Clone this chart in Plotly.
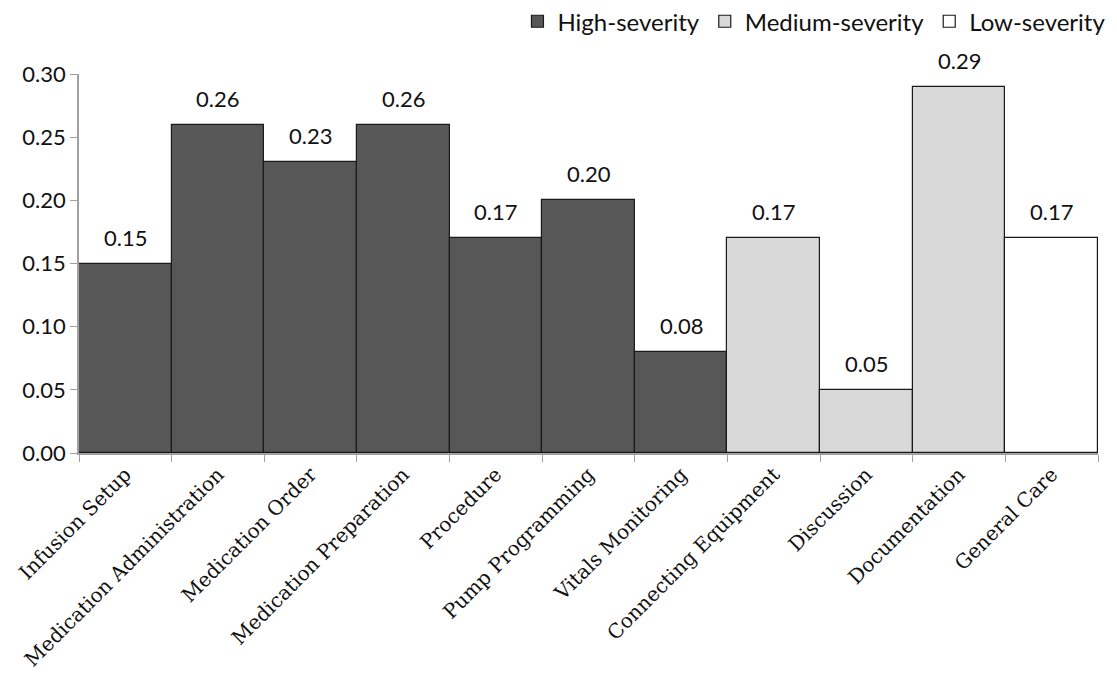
import plotly.graph_objects as go

categories = ["Infusion Setup", "Medication Administration", "Medication Order",
              "Medication Preparation", "Procedure", "Pump Programming",
              "Vitals Monitoring", "Connecting Equipment", "Discussion",
              "Documentation", "General Care"]
values = [0.15, 0.26, 0.23, 0.26, 0.17, 0.20, 0.08, 0.17, 0.05, 0.29, 0.17]
severity = ["High", "High", "High", "High", "High", "High", "High",
            "Medium", "Medium", "Medium", "Low"]
series_names = {"High": "High-severity", "Medium": "Medium-severity", "Low": "Low-severity"}
colors = {"High": "#575757", "Medium": "#d9d9d9", "Low": "#ffffff"}
y_ticks = [0.00, 0.05, 0.10, 0.15, 0.20, 0.25, 0.30]

fig = go.Figure()
for sev in ["High", "Medium", "Low"]:
    xs = [c for c, s in zip(categories, severity) if s == sev]
    ys = [v for v, s in zip(values, severity) if s == sev]
    fig.add_trace(go.Bar(
        x=xs, y=ys, name=series_names[sev],
        marker=dict(color=colors[sev], line=dict(color="#1a1a1a", width=1.2)),
    ))

for c, v in zip(categories, values):
    fig.add_annotation(x=c, y=v, text=f"{v:.2f}", showarrow=False,
                       yanchor="bottom", yshift=11,
                       font=dict(family="Lato", size=22, color="#111111"))

fig.update_layout(
    width=1109, height=682,
    margin=dict(l=71, r=19, t=66, b=237),
    plot_bgcolor="white", paper_bgcolor="white",
    barmode="overlay", bargap=0,
    showlegend=True,
    legend=dict(orientation="h", xref="container", x=0.995, xanchor="right",
                yref="container", y=0.98, yanchor="middle",
                font=dict(family="Lato", size=24, color="#111111"),
                itemwidth=30, tracegroupgap=0, traceorder="normal"),
)
fig.update_xaxes(
    categoryorder="array", categoryarray=categories, automargin=False,
    tickangle=-45, tickson="boundaries", ticks="outside", ticklen=7,
    tickcolor="#a0a0a0", showline=True, linecolor="#a0a0a0", linewidth=1.5,
    tickfont=dict(family="DejaVu Serif", size=20, color="#111111"),
    showgrid=False,
)
fig.update_yaxes(
    range=[0, 0.30], tickvals=y_ticks, ticktext=[f"{t:.2f}" for t in y_ticks],
    automargin=False,
    ticks="outside", ticklen=7, tickcolor="#a0a0a0",
    showline=True, linecolor="#a0a0a0", linewidth=1.5,
    tickfont=dict(family="Lato", size=22, color="#111111"),
    showgrid=False, zeroline=False,
)
fig.write_html("out.html")
